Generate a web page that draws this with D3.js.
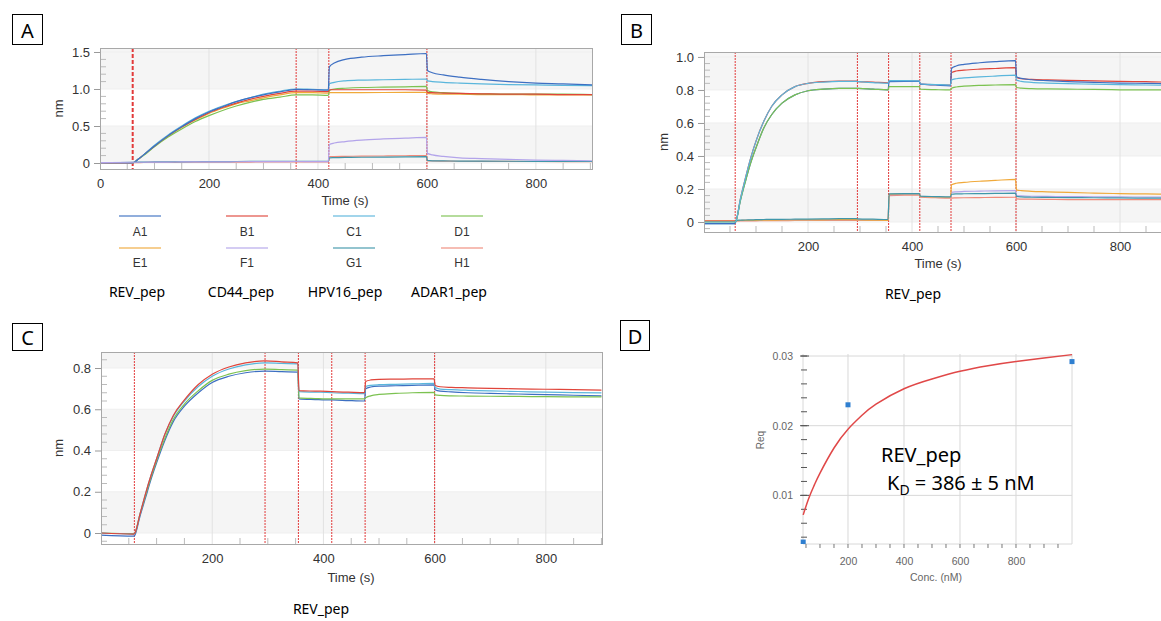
<!DOCTYPE html>
<html><head><meta charset="utf-8">
<script src="https://cdn.jsdelivr.net/npm/d3@7"></script>
<style>body{margin:0;background:#fff}svg{display:block}</style>
</head><body>
<svg id="fig" width="1161" height="621"></svg>
<script>
// ---------- DATA ----------
const traceNames = ["A1","B1","C1","D1","E1","F1","G1","H1"];
const traceColors = ["#3d6fc2","#e0453b","#5ab6dc","#7cc251","#f0a93a","#b3a4ea","#3f97aa","#f08a7a"];
const groupLabels = ["REV_pep","CD44_pep","HPV16_pep","ADAR1_pep"];

// Panel A
const tA = [0,60,70,80,100,125,150,175,200,225,250,275,300,330,360,390,419,421,430,450,480,520,560,599,601,610,630,660,700,750,800,850,905];
const A_A1 = [0.00,0.00,0.05,0.11,0.23,0.37,0.49,0.60,0.69,0.76,0.83,0.88,0.92,0.96,0.995,0.99,0.985,1.30,1.35,1.40,1.43,1.45,1.465,1.48,1.25,1.22,1.19,1.16,1.13,1.10,1.08,1.07,1.055];
const A_B1 = [0.00,0.00,0.05,0.11,0.23,0.37,0.49,0.59,0.68,0.75,0.81,0.86,0.90,0.94,0.97,0.97,0.965,0.99,0.99,0.99,0.99,0.99,0.99,0.985,0.955,0.95,0.945,0.94,0.935,0.93,0.93,0.925,0.925];
const A_C1 = [0.00,0.00,0.05,0.11,0.24,0.38,0.50,0.61,0.70,0.77,0.83,0.88,0.93,0.97,1.00,0.995,0.99,1.07,1.09,1.11,1.12,1.125,1.13,1.135,1.11,1.10,1.09,1.08,1.07,1.06,1.055,1.05,1.045];
const A_D1 = [0.00,0.00,0.05,0.10,0.22,0.35,0.46,0.56,0.64,0.71,0.77,0.82,0.86,0.89,0.92,0.92,0.915,0.98,1.00,1.01,1.02,1.025,1.03,1.035,0.98,0.96,0.95,0.94,0.935,0.93,0.93,0.93,0.925];
const A_E1 = [0.00,0.00,0.05,0.11,0.23,0.36,0.48,0.58,0.67,0.74,0.80,0.84,0.88,0.92,0.95,0.95,0.945,0.95,0.95,0.95,0.952,0.953,0.954,0.955,0.94,0.935,0.93,0.93,0.925,0.925,0.92,0.92,0.92];
const A_F1 = [0.005,0.01,0.01,0.01,0.012,0.013,0.014,0.015,0.016,0.016,0.017,0.018,0.018,0.019,0.02,0.02,0.02,0.25,0.27,0.29,0.31,0.325,0.335,0.345,0.13,0.11,0.09,0.07,0.06,0.05,0.04,0.035,0.03];
const A_G1 = [0.005,0.01,0.012,0.013,0.014,0.015,0.016,0.017,0.018,0.019,0.02,0.021,0.022,0.023,0.024,0.024,0.024,0.07,0.072,0.075,0.078,0.08,0.083,0.085,0.035,0.03,0.028,0.026,0.025,0.024,0.023,0.022,0.02];
const A_H1 = [0.0,0.005,0.006,0.007,0.008,0.009,0.01,0.011,0.012,0.012,0.013,0.013,0.014,0.014,0.015,0.015,0.015,0.085,0.088,0.09,0.093,0.095,0.098,0.10,0.03,0.028,0.026,0.024,0.022,0.021,0.02,0.02,0.02];
const stepsA = [60,360,420,600];
const yTicksA = [0,0.5,1.0,1.5];

// Panel B
const tB = [0,59,61,70,80,90,100,115,130,150,175,200,230,260,294,296,325,354,356,385,414,416,445,474,476,485,500,530,560,599,601,610,630,660,700,750,800,850,900];
const B_A1 = [-0.01,-0.01,0.0,0.13,0.25,0.36,0.45,0.57,0.65,0.72,0.77,0.795,0.805,0.81,0.81,0.81,0.805,0.80,0.85,0.852,0.852,0.835,0.83,0.825,0.93,0.945,0.955,0.965,0.972,0.978,0.88,0.87,0.862,0.856,0.85,0.846,0.842,0.84,0.838];
const B_B1 = [0.005,0.005,0.006,0.14,0.27,0.39,0.49,0.61,0.70,0.77,0.82,0.84,0.85,0.853,0.853,0.851,0.848,0.843,0.853,0.853,0.853,0.835,0.832,0.83,0.905,0.915,0.92,0.926,0.93,0.935,0.875,0.868,0.864,0.861,0.858,0.855,0.852,0.85,0.847];
const B_C1 = [0.0,0.0,0.002,0.14,0.27,0.39,0.49,0.61,0.70,0.77,0.82,0.84,0.848,0.852,0.852,0.85,0.845,0.84,0.857,0.857,0.855,0.836,0.833,0.83,0.86,0.868,0.873,0.879,0.884,0.89,0.86,0.852,0.846,0.842,0.838,0.835,0.832,0.83,0.828];
const B_D1 = [0.0,0.0,0.002,0.13,0.25,0.36,0.45,0.57,0.65,0.72,0.77,0.795,0.805,0.81,0.81,0.81,0.805,0.80,0.82,0.82,0.82,0.805,0.802,0.80,0.81,0.818,0.823,0.828,0.83,0.832,0.815,0.811,0.808,0.806,0.805,0.803,0.801,0.80,0.80];
const B_E1 = [0.005,0.005,0.008,0.009,0.01,0.01,0.01,0.011,0.011,0.012,0.012,0.013,0.013,0.014,0.014,0.012,0.011,0.01,0.168,0.17,0.17,0.155,0.152,0.15,0.225,0.235,0.24,0.247,0.252,0.258,0.195,0.19,0.186,0.183,0.179,0.175,0.172,0.17,0.168];
const B_F1 = [0.003,0.003,0.008,0.009,0.01,0.01,0.011,0.011,0.012,0.012,0.013,0.013,0.014,0.014,0.015,0.013,0.012,0.012,0.165,0.167,0.167,0.155,0.152,0.15,0.18,0.183,0.185,0.187,0.189,0.19,0.16,0.158,0.156,0.155,0.154,0.153,0.152,0.151,0.15];
const B_G1 = [-0.01,-0.01,0.01,0.011,0.012,0.013,0.014,0.015,0.016,0.016,0.017,0.018,0.019,0.02,0.021,0.019,0.017,0.015,0.17,0.172,0.172,0.157,0.154,0.152,0.168,0.17,0.171,0.172,0.173,0.175,0.155,0.152,0.15,0.149,0.148,0.147,0.146,0.145,0.145];
const B_H1 = [0.005,0.005,0.006,0.006,0.007,0.007,0.007,0.008,0.008,0.008,0.009,0.009,0.009,0.01,0.01,0.01,0.009,0.009,0.16,0.162,0.162,0.15,0.147,0.145,0.145,0.146,0.147,0.148,0.149,0.15,0.14,0.139,0.138,0.137,0.136,0.136,0.135,0.135,0.135];
const stepsB = [60,295,355,415,475,600];
const yTicksB = [0,0.2,0.4,0.6,0.8,1.0];

// Panel C
const tC = [0,59,61,70,80,90,100,115,130,150,175,200,230,260,294,296,325,354,356,385,414,416,445,474,476,485,500,530,560,599,601,610,630,660,700,750,800,850,900];
const C_red   = [0.0,-0.005,0.0,0.09,0.19,0.28,0.36,0.48,0.57,0.645,0.72,0.77,0.805,0.825,0.835,0.835,0.83,0.825,0.69,0.688,0.686,0.685,0.683,0.681,0.735,0.742,0.745,0.746,0.747,0.748,0.715,0.709,0.706,0.704,0.701,0.699,0.697,0.695,0.693];
const C_cyan  = [0.0,-0.005,0.0,0.09,0.19,0.28,0.36,0.48,0.565,0.64,0.71,0.76,0.795,0.815,0.825,0.825,0.822,0.82,0.685,0.683,0.681,0.68,0.678,0.676,0.71,0.716,0.719,0.721,0.723,0.725,0.705,0.698,0.695,0.692,0.689,0.686,0.683,0.681,0.679];
const C_green = [0.0,-0.003,0.0,0.09,0.18,0.27,0.35,0.46,0.55,0.625,0.69,0.74,0.77,0.787,0.795,0.795,0.792,0.79,0.655,0.652,0.65,0.65,0.65,0.65,0.655,0.665,0.672,0.677,0.68,0.682,0.67,0.667,0.665,0.664,0.663,0.662,0.661,0.66,0.66];
const C_blue  = [-0.01,-0.015,-0.01,0.08,0.17,0.26,0.34,0.45,0.54,0.615,0.68,0.73,0.76,0.777,0.785,0.785,0.782,0.78,0.65,0.647,0.645,0.645,0.642,0.64,0.70,0.708,0.712,0.714,0.716,0.718,0.695,0.688,0.684,0.68,0.677,0.674,0.671,0.668,0.665];
const stepsC = [60,295,355,415,475,600];
const yTicksC = [0,0.2,0.4,0.6,0.8];

const xTicksKin = [0,200,400,600,800];

// Panel D
const concPts = [40,200,1000];
const reqPts = [0.0033,0.0230,0.0292];
const fitConc = [40,60,80,100,150,200,250,300,400,500,600,700,800,900,1000];
const fitReq = [0.0072,0.0096,0.0115,0.0132,0.0168,0.0195,0.0215,0.0231,0.0253,0.0267,0.0278,0.0286,0.0292,0.0297,0.0302];
const xTicksD = [200,400,600,800];
const yTicksD = [0.01,0.02,0.03];

// ---------- DRAW ----------
const svg = d3.select("#fig");
const fontAx = "'Liberation Sans', Arial, sans-serif";
const fontLbl = "'Noto Sans', 'Open Sans', sans-serif";

function panelBox(x,y,w,h,letter){
  svg.append("rect").attr("x",x+0.5).attr("y",y+0.5).attr("width",w).attr("height",h)
    .attr("fill","none").attr("stroke","#000").attr("stroke-width",1);
  svg.append("text").attr("x",x+w/2+0.5).attr("y",y+h/2+1).attr("text-anchor","middle")
    .attr("dominant-baseline","central").attr("font-family",fontLbl).attr("font-size",20).text(letter);
}

let clipId = 0;
function kinetics(cfg){
  const x = d3.scaleLinear().domain(cfg.xDom).range([cfg.left,cfg.right]);
  const y = d3.scaleLinear().domain(cfg.yDom).range([cfg.bottom,cfg.top]);
  const g = svg.append("g");
  const id = "clip"+(clipId++);
  svg.append("clipPath").attr("id",id).append("rect")
    .attr("x",cfg.left).attr("y",cfg.top).attr("width",cfg.right-cfg.left).attr("height",cfg.bottom-cfg.top);
  const tk = cfg.yTicks;
  tk.forEach((v,i)=>{
    if(i%2===0){
      const hi = (i>=tk.length-2) ? cfg.yDom[1] : tk[i+1];
      g.append("rect").attr("x",cfg.left).attr("width",cfg.right-cfg.left)
        .attr("y",y(hi)).attr("height",y(v)-y(hi)).attr("fill","#f5f5f5");
    }
  });
  g.selectAll(".hg").data(tk).join("line").attr("x1",cfg.left).attr("x2",cfg.right)
    .attr("y1",d=>y(d)).attr("y2",d=>y(d)).attr("stroke","#efefef");
  g.selectAll(".vg").data(cfg.xTicks.filter(d=>d>0)).join("line")
    .attr("x1",d=>x(d)).attr("x2",d=>x(d)).attr("y1",cfg.top).attr("y2",cfg.bottom)
    .attr("stroke","#e2e2e2");
  const step = tk[1]-tk[0];
  const minorY = [];
  for(let i=0;i<tk.length;i++){ for(let k=1;k<5;k++){ const v=tk[i]+step*k/5; if(v<cfg.yDom[1]) minorY.push(v);} }
  for(let k=1;k<5;k++){ const v=tk[0]-step*k/5; if(v>cfg.yDom[0]) minorY.push(v);}
  g.selectAll(".my").data(minorY).join("line").attr("x1",cfg.left).attr("x2",cfg.left+6)
    .attr("y1",d=>y(d)).attr("y2",d=>y(d)).attr("stroke","#bbb");
  const minorX = d3.range(50,cfg.xDom[1],50).filter(d=>d%200!==0);
  g.selectAll(".mx").data(minorX).join("line").attr("x1",d=>x(d)).attr("x2",d=>x(d))
    .attr("y1",cfg.bottom).attr("y2",cfg.bottom-6).attr("stroke","#bbb");
  g.selectAll(".st").data(cfg.steps).join("line")
    .attr("x1",d=>x(d)).attr("x2",d=>x(d)).attr("y1",cfg.top).attr("y2",cfg.bottom)
    .attr("stroke","#e23a3a").attr("stroke-width",(d,i)=>cfg.firstBold&&i===0?2:1)
    .attr("stroke-dasharray",(d,i)=>cfg.firstBold&&i===0?"4,2":"2,1");
  const line = d3.line().x(d=>x(d[0])).y(d=>y(d[1])).curve(d3.curveMonotoneX);
  const tg = g.append("g").attr("clip-path",`url(#${id})`);
  cfg.series.forEach(s=>{
    tg.append("path").attr("d",line(cfg.t.map((t,i)=>[t,s.v[i]])))
      .attr("fill","none").attr("stroke",s.c).attr("stroke-width",1.2);
  });
  g.append("rect").attr("x",cfg.left+0.5).attr("y",cfg.top+0.5)
    .attr("width",cfg.right-cfg.left).attr("height",cfg.bottom-cfg.top)
    .attr("fill","none").attr("stroke","#a8a8a8");
  const ya = d3.axisLeft(y).tickValues(tk).tickSize(6).tickPadding(4)
    .tickFormat(d=>d===0?"0":d3.format(".1f")(d));
  const yg = svg.append("g").attr("transform",`translate(${cfg.left},0)`).call(ya);
  yg.select(".domain").remove();
  yg.selectAll("line").attr("stroke","#999");
  yg.selectAll("text").attr("font-family",fontAx).attr("font-size",13).attr("fill","#333");
  const xa = d3.axisBottom(x).tickValues(cfg.xTicks.filter(d=>cfg.showZero || d>0)).tickSize(0).tickPadding(10)
    .tickFormat(d3.format("d"));
  const xg = svg.append("g").attr("transform",`translate(0,${cfg.bottom})`).call(xa);
  xg.select(".domain").remove();
  xg.selectAll("text").attr("font-family",fontAx).attr("font-size",13).attr("fill","#333");
  svg.append("text").attr("transform",`translate(${cfg.nmX},${(cfg.top+cfg.bottom)/2}) rotate(-90)`)
    .attr("text-anchor","middle").attr("dominant-baseline","central")
    .attr("font-family",fontAx).attr("font-size",13).attr("fill","#333").text("nm");
  svg.append("text").attr("x",cfg.timeX).attr("y",cfg.timeY).attr("text-anchor","middle")
    .attr("dominant-baseline","central").attr("font-family",fontAx).attr("font-size",13).attr("fill","#333").text("Time (s)");
  return {x,y};
}

// Panel A
panelBox(12,14,30,30,"A");
kinetics({left:100,right:592,top:48,bottom:169,xDom:[0,903],yDom:[-0.081,1.554],
  yTicks:yTicksA,xTicks:xTicksKin,steps:stepsA,firstBold:true,showZero:true,t:tA,
  nmX:58,timeX:345,timeY:200,
  series:[{v:A_E1,c:traceColors[4]},{v:A_D1,c:traceColors[3]},{v:A_B1,c:traceColors[1]},{v:A_C1,c:traceColors[2]},
          {v:A_A1,c:traceColors[0]},{v:A_H1,c:traceColors[7]},{v:A_G1,c:traceColors[6]},{v:A_F1,c:traceColors[5]}]});
const legCx = [140,247,354,462];
traceNames.forEach((n,i)=>{
  const col=i%4,row=Math.floor(i/4);
  const cx=legCx[col], ly= row===0?216:248, ty=row===0?232:263;
  svg.append("line").attr("x1",cx-21).attr("x2",cx+21).attr("y1",ly).attr("y2",ly)
    .attr("stroke",traceColors[i]).attr("stroke-width",1.5).attr("opacity",0.75);
  svg.append("text").attr("x",cx).attr("y",ty).attr("text-anchor","middle").attr("dominant-baseline","central")
    .attr("font-family",fontAx).attr("font-size",12).attr("fill","#333").text(n);
});
const grpCx=[137,241,345,449];
groupLabels.forEach((n,i)=>{
  svg.append("text").attr("x",grpCx[i]).attr("y",291).attr("text-anchor","middle").attr("dominant-baseline","central")
    .attr("font-family",fontLbl).attr("font-size",14).attr("fill","#000").text(n);
});

// Panel B
panelBox(621,14,30,30,"B");
kinetics({left:704,right:1172,top:52,bottom:232,xDom:[0,900],yDom:[-0.0606,1.03],
  yTicks:yTicksB,xTicks:xTicksKin,steps:stepsB,firstBold:false,showZero:false,t:tB,
  nmX:663,timeX:938,timeY:263,
  series:[{v:B_H1,c:traceColors[7]},{v:B_F1,c:traceColors[5]},{v:B_E1,c:traceColors[4]},{v:B_G1,c:traceColors[6]},
          {v:B_B1,c:traceColors[1]},{v:B_A1,c:traceColors[0]},{v:B_D1,c:traceColors[3]},{v:B_C1,c:traceColors[2]}]});
svg.append("text").attr("x",913).attr("y",293).attr("text-anchor","middle").attr("dominant-baseline","central")
  .attr("font-family",fontLbl).attr("font-size",14).text("REV_pep");

// Panel C
panelBox(12,323,30,27,"C");
kinetics({left:101,right:602,top:352,bottom:544,xDom:[0,901],yDom:[-0.0533,0.8776],
  yTicks:yTicksC,xTicks:xTicksKin,steps:stepsC,firstBold:false,showZero:false,t:tC,
  nmX:58,timeX:351,timeY:577,
  series:[{v:C_blue,c:traceColors[0]},{v:C_green,c:traceColors[3]},{v:C_cyan,c:traceColors[2]},{v:C_red,c:traceColors[1]}]});
svg.append("text").attr("x",321).attr("y",608).attr("text-anchor","middle").attr("dominant-baseline","central")
  .attr("font-family",fontLbl).attr("font-size",14).text("REV_pep");

// Panel D
panelBox(620,320,29,30,"D");
(function(){
  const L=803,R=1072,T=354,B=544;
  const x=d3.scaleLinear().domain([39.3,1000]).range([L,R]);
  const y=d3.scaleLinear().domain([0.00302,0.03029]).range([B,T]);
  const g=svg.append("g");
  g.selectAll(".vg").data(xTicksD.concat([1000])).join("line").attr("x1",d=>x(d)).attr("x2",d=>x(d))
    .attr("y1",T).attr("y2",B).attr("stroke","#d8d8d8");
  g.selectAll(".hg").data(yTicksD).join("line").attr("x1",L).attr("x2",R)
    .attr("y1",d=>y(d)).attr("y2",d=>y(d)).attr("stroke","#d8d8d8");
  g.append("line").attr("x1",L).attr("x2",L).attr("y1",T).attr("y2",B).attr("stroke","#d8d8d8");
  g.append("line").attr("x1",L).attr("x2",R).attr("y1",B).attr("y2",B).attr("stroke","#d8d8d8");
  const my=d3.range(0.004,0.0303,0.002);
  g.selectAll(".my").data(my).join("line").attr("x1",L-2).attr("x2",L+4)
    .attr("y1",d=>y(d)).attr("y2",d=>y(d)).attr("stroke","#555");
  g.selectAll(".mj").data(yTicksD).join("line").attr("x1",L-3).attr("x2",L+6)
    .attr("y1",d=>y(d)).attr("y2",d=>y(d)).attr("stroke","#555");
  const mx=d3.range(50,1000,50);
  g.selectAll(".mx").data(mx).join("line").attr("x1",d=>x(d)).attr("x2",d=>x(d))
    .attr("y1",B).attr("y2",B+4).attr("stroke","#777");
  svg.append("clipPath").attr("id","clipD").append("rect").attr("x",L-3).attr("y",T-3).attr("width",R-L+6).attr("height",B-T+3);
  const line=d3.line().x(d=>x(d[0])).y(d=>y(d[1])).curve(d3.curveNatural);
  g.append("path").attr("clip-path","url(#clipD)").attr("d",line(fitConc.map((c,i)=>[c,fitReq[i]])))
    .attr("fill","none").attr("stroke","#e04848").attr("stroke-width",1.5);
  g.selectAll(".pt").data(concPts.map((c,i)=>[c,reqPts[i]])).join("rect")
    .attr("x",d=>x(d[0])-2.5).attr("y",d=>y(d[1])-2.5).attr("width",5).attr("height",5)
    .attr("fill","#2f7fd0").attr("clip-path","url(#clipD)");
  const ya=d3.axisLeft(y).tickValues(yTicksD).tickSize(0).tickPadding(10).tickFormat(d3.format(".2f"));
  const yg=svg.append("g").attr("transform",`translate(${L},0)`).call(ya);
  yg.select(".domain").remove();
  yg.selectAll("text").attr("font-family",fontAx).attr("font-size",10.5).attr("fill","#666");
  const xa=d3.axisBottom(x).tickValues(xTicksD).tickSize(0).tickPadding(14).tickFormat(d3.format("d"));
  const xg=svg.append("g").attr("transform",`translate(0,${B})`).call(xa);
  xg.select(".domain").remove();
  xg.selectAll("text").attr("font-family",fontAx).attr("font-size",10.5).attr("fill","#666");
  svg.append("text").attr("transform",`translate(760,440) rotate(-90)`).attr("text-anchor","middle")
    .attr("dominant-baseline","central").attr("font-family",fontAx).attr("font-size",10).attr("fill","#666").text("Req");
  svg.append("text").attr("x",936).attr("y",577).attr("text-anchor","middle").attr("dominant-baseline","central")
    .attr("font-family",fontAx).attr("font-size",10.5).attr("fill","#666").text("Conc. (nM)");
  svg.append("text").attr("x",881).attr("y",462).attr("font-family",fontLbl).attr("font-size",20).text("REV_pep");
  const kd=svg.append("text").attr("x",887).attr("y",490).attr("font-family",fontLbl).attr("font-size",20);
  kd.append("tspan").text("K");
  kd.append("tspan").attr("font-size",14).attr("dy",5).text("D");
  kd.append("tspan").attr("dy",-5).text(" = 386 ± 5 nM");
})();
</script>
</body></html>
